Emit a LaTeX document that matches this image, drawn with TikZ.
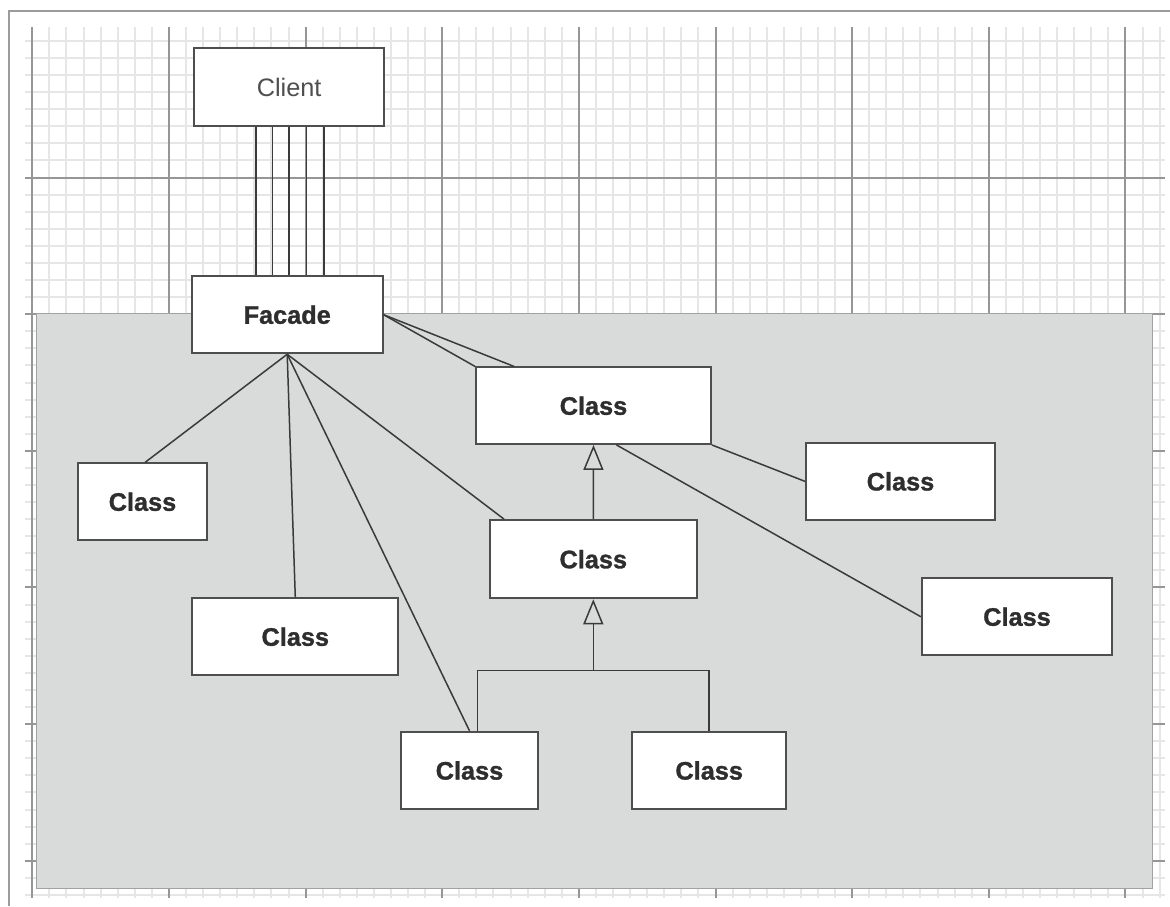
\documentclass[tikz,border=0pt]{standalone}
\usepackage{fontspec}
\setmainfont{Liberation Sans}
\newfontfamily\labelheavy[FakeBold=1.2]{Liberation Sans Bold}
\usetikzlibrary{arrows.meta}
\definecolor{finegrid}{HTML}{E6E6E6}
\definecolor{majorgrid}{HTML}{969696}
\definecolor{framegray}{HTML}{9C9C9C}
\definecolor{panel}{HTML}{D9DADA}
\definecolor{paneledge}{HTML}{A2A2A2}
\definecolor{boxedge}{HTML}{4E4E4E}
\definecolor{wirecol}{HTML}{3A3A3A}
\definecolor{inkdark}{HTML}{2E2E2E}
\definecolor{inklight}{HTML}{4F4F4F}
\begin{document}
\begin{tikzpicture}[x=1pt,y=-1pt,
  fineline/.style={draw=finegrid, line width=2pt},
  majorline/.style={draw=majorgrid, line width=1.4pt},
  umlbox/.style={draw=boxedge, line width=1.8pt, fill=white, inner sep=0pt,
    font=\fontsize{25.3}{30}\selectfont},
  classbox/.style={umlbox, font=\fontsize{25.3}{30}\labelheavy, text=inkdark},
  clientbox/.style={umlbox, text=inklight},
  wire/.style={draw=wirecol, line width=1.5pt},
  inherit/.style={wire, -{Triangle[open, length=25pt, width=20pt, line width=1.5pt]}}
]
\useasboundingbox (0,0) rectangle (1170,906);
\fill[white] (0,0) rectangle (1170,906);

% sheet frame (top and left edges)
\draw[draw=framegray, line width=2pt] (9,906) -- (9,10.7) -- (1170,10.7);

% graph paper, lines snapped to whole units
\foreach \k in {0,...,66}{
  \pgfmathsetmacro{\gx}{round(32.3+17.08*\k)}
  \draw[fineline] (\gx,27) -- (\gx,898);
}
\foreach \j in {0,...,50}{
  \pgfmathsetmacro{\gy}{round(40.9+17.08*\j)}
  \draw[fineline] (25,\gy) -- (1165,\gy);
}
\foreach \k in {0,...,8}{
  \pgfmathsetmacro{\gx}{round(32.3+136.64*\k)}
  \draw[majorline] (\gx,27) -- (\gx,898);
}
\foreach \j in {1,...,6}{
  \pgfmathsetmacro{\gy}{round(40.9+136.64*\j)}
  \draw[majorline] (25,\gy) -- (1165,\gy);
}

% subsystem panel
\draw[fill=panel, draw=paneledge, line width=1.3pt] (36.7,313.6) rectangle (1152.3,888.3);

% classes
\node[clientbox, minimum width=190.3pt, minimum height=77.7pt] (client) at (289.2,87.2) {Client};
\node[classbox, minimum width=191pt, minimum height=77.3pt] (facade) at (287.2,314.7) {Facade};
\node[classbox, minimum width=235pt, minimum height=76.7pt] (cTop) at (593.5,405.7) {Class};
\node[classbox, minimum width=206.7pt, minimum height=78.3pt] (cMid) at (593.3,559.2) {Class};
\node[classbox, minimum width=128.4pt, minimum height=76.7pt] (cL1) at (142.5,501.7) {Class};
\node[classbox, minimum width=206pt, minimum height=76.7pt] (cL2) at (295.3,636.7) {Class};
\node[classbox, minimum width=137.6pt, minimum height=77.6pt] (cB1) at (469.5,770.5) {Class};
\node[classbox, minimum width=153.7pt, minimum height=77.6pt] (cB2) at (709.2,770.5) {Class};
\node[classbox, minimum width=189pt, minimum height=77.3pt] (cR1) at (900.5,481.4) {Class};
\node[classbox, minimum width=190.6pt, minimum height=76.7pt] (cR2) at (1017,616.7) {Class};

% client to facade bundle
\foreach \dx in {-33.2,-16.9,0,17.5,34.8}
  \draw[wire] ([xshift=\dx pt]client.south) -- ([xshift=\dx pt]client.south |- facade.north);

% facade to subsystem classes
\draw[wire] (facade.south) -- ([xshift=2.5pt]cL1.north);
\draw[wire] (facade.south) -- (cL2.north);
\draw[wire] (facade.south) -- (cB1.north);
\draw[wire] (facade.south) -- ([xshift=15pt]cMid.north west);
\draw[wire] (facade.east) -- (cTop.north west);
\draw[wire] (facade.east) -- ([xshift=39pt]cTop.north west);

% associations of the top class
\draw[wire] (cTop.south east) -- (cR1.west);
\draw[wire] ([xshift=23pt]cTop.south) -- (cR2.west);

% generalisation
\draw[inherit] (cMid.north) -- (cTop.south);
\coordinate (hub) at (593.3,670.7);
\draw[wire] ([xshift=7.8pt]cB1.north) |- (hub) -| (cB2.north);
\draw[inherit] (hub) -- (cMid.south);
\end{tikzpicture}
\end{document}
